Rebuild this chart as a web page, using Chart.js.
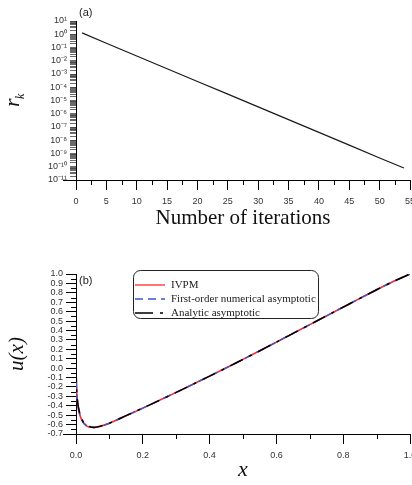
<!DOCTYPE html>
<html>
<head>
<meta charset="utf-8">
<script src="https://cdn.jsdelivr.net/npm/chart.js@4.4.0/dist/chart.umd.min.js"></script>
<style>
  html, body { margin: 0; padding: 0; background: #fff; overflow: hidden; }
  body { width: 412px; height: 485px; position: relative; }
  .panel { position: absolute; left: 0; width: 440px; }
  #panelA { top: 0; height: 235px; }
  #panelB { top: 240px; height: 245px; }
</style>
</head>
<body>
<div class="panel" id="panelA"><canvas id="residualChart"></canvas></div>
<div class="panel" id="panelB"><canvas id="solutionChart"></canvas></div>
<script>
// (a) residual r_k against iteration count
const iterations = [1, 5, 10, 15, 20, 25, 30, 35, 40, 45, 50, 54];
const residuals = [1.26, 0.21, 2.3e-2, 2.5e-3, 2.7e-4, 3.0e-5, 3.3e-6, 3.6e-7, 3.9e-8, 4.3e-9, 4.6e-10, 8e-11];
const residualExponents = [1, 0, -1, -2, -3, -4, -5, -6, -7, -8, -9, -10, -11];

// (b) solution u(x)
const xs = [0, 0.002, 0.005, 0.01, 0.02, 0.03, 0.04, 0.055, 0.07, 0.1, 0.15, 0.2, 0.25, 0.3, 0.35, 0.4,
  0.45, 0.5, 0.55, 0.6, 0.65, 0.7, 0.75, 0.8, 0.85, 0.9, 0.95, 1.0];
const uIVPM = [0, -0.25, -0.38, -0.48, -0.57, -0.61, -0.625, -0.63, -0.62, -0.585, -0.505, -0.425, -0.342, -0.258, -0.172, -0.085,
  0.003, 0.093, 0.184, 0.276, 0.369, 0.462, 0.555, 0.648, 0.741, 0.833, 0.92, 1.0];
const uNumerical = [0, -0.24, -0.37, -0.47, -0.565, -0.605, -0.625, -0.63, -0.62, -0.585, -0.505, -0.425, -0.342, -0.258, -0.172, -0.085,
  0.003, 0.093, 0.184, 0.276, 0.369, 0.462, 0.555, 0.648, 0.741, 0.833, 0.92, 1.0];
const uAnalytic = [0, -0.23, -0.36, -0.46, -0.56, -0.6, -0.62, -0.63, -0.62, -0.585, -0.505, -0.425, -0.342, -0.258, -0.172, -0.085,
  0.003, 0.093, 0.184, 0.276, 0.369, 0.462, 0.555, 0.648, 0.741, 0.833, 0.92, 1.0];

const SANS = "'Liberation Sans', Arial, sans-serif";
const SERIF = "'Liberation Serif', 'Times New Roman', serif";
const SUP = { '0': '⁰', '1': '¹', '2': '²', '3': '³', '4': '⁴', '5': '⁵', '6': '⁶', '7': '⁷', '8': '⁸', '9': '⁹', '-': '⁻' };
const pow10Label = (e) => '10' + String(e).split('').map(c => SUP[c]).join('');

// short unlabelled ticks between the labelled ones
const minorTicks = {
  id: 'minorTicks',
  afterDraw(chart, args, opts) {
    const { ctx, chartArea } = chart;
    ctx.save();
    ctx.strokeStyle = '#000';
    ctx.lineWidth = 1;
    ctx.beginPath();
    (opts.axes || []).forEach(a => {
      const scale = chart.scales[a.id];
      a.values.forEach(v => {
        const p = Math.round(scale.getPixelForValue(v)) + 0.5;
        if (scale.isHorizontal()) {
          ctx.moveTo(p, chartArea.bottom);
          ctx.lineTo(p, chartArea.bottom + a.length);
        } else {
          ctx.moveTo(chartArea.left - a.length, p);
          ctx.lineTo(chartArea.left, p);
        }
      });
    });
    ctx.stroke();
    ctx.restore();
  }
};

// panel letter plus the x-axis stub running left of the y axis
const panelDecor = {
  id: 'panelDecor',
  afterDraw(chart, args, opts) {
    const { ctx, chartArea } = chart;
    ctx.save();
    ctx.strokeStyle = '#000';
    ctx.lineWidth = 1;
    ctx.beginPath();
    const yb = Math.round(chartArea.bottom) + 0.5;
    ctx.moveTo(chartArea.left - 13, yb);
    ctx.lineTo(chartArea.left, yb);
    ctx.stroke();
    ctx.fillStyle = '#222';
    ctx.font = '11px ' + SANS;
    ctx.textBaseline = 'middle';
    ctx.fillText(opts.letter, chartArea.left + 3, chartArea.top - 8 + opts.letterDy);
    ctx.restore();
  }
};

const xMinorA = [];
for (let v = 2.5; v < 55; v += 5) xMinorA.push(v);

new Chart(document.getElementById('residualChart'), {
  type: 'line',
  data: {
    datasets: [{
      data: iterations.map((n, i) => ({ x: n, y: residuals[i] })),
      borderColor: '#1a1a1a',
      borderWidth: 1.2,
      pointRadius: 0,
      tension: 0,
      fill: false
    }]
  },
  options: {
    responsive: true,
    maintainAspectRatio: false,
    animation: false,
    layout: { padding: { top: 21, right: 30, left: 0, bottom: 0 } },
    plugins: {
      legend: { display: false },
      tooltip: { enabled: false },
      minorTicks: { axes: [{ id: 'x', values: xMinorA, length: 5 }] },
      panelDecor: { letter: '(a)', letterDy: 0 }
    },
    scales: {
      x: {
        type: 'linear',
        min: 0,
        max: 55,
        afterFit: s => { s.height = 55; },
        border: { color: '#000', width: 1 },
        grid: { drawOnChartArea: false, tickLength: 10, color: '#000' },
        ticks: { stepSize: 5, padding: 6, maxRotation: 0, autoSkip: false, color: '#333', font: { family: SANS, size: 9 } },
        title: { display: true, text: 'Number of iterations', color: '#111', font: { family: SERIF, size: 21 }, padding: { top: 0, bottom: 4 } }
      },
      y: {
        type: 'logarithmic',
        min: 1e-11,
        max: 10,
        afterFit: s => { s.width = 76; },
        afterBuildTicks: s => {
          const t = [];
          residualExponents.slice().reverse().forEach(e => {
            for (let m = 1; m <= 9; m++) {
              if (e === 1 && m > 1) break;
              t.push({ value: m * Math.pow(10, e) });
            }
          });
          s.ticks = t;
        },
        border: { color: '#000', width: 1 },
        grid: { drawOnChartArea: false, tickLength: 6, color: '#444', lineWidth: 0.8 },
        ticks: {
          autoSkip: false,
          padding: 3,
          color: '#333',
          font: { family: SANS, size: 9 },
          callback: v => {
            const e = Math.round(Math.log10(v));
            return Math.abs(Math.log10(v) - e) < 1e-6 ? pow10Label(e) : '';
          }
        }
      }
    }
  },
  plugins: [minorTicks, panelDecor, {
    id: 'rkTitle',
    afterDraw(chart) {
      const ctx = chart.ctx;
      ctx.save();
      ctx.fillStyle = '#111';
      ctx.translate(19, 100);
      ctx.rotate(-Math.PI / 2);
      ctx.textBaseline = 'alphabetic';
      ctx.font = 'italic 22px ' + SERIF;
      ctx.fillText('r', -7, 0);
      ctx.font = 'italic 12px ' + SERIF;
      ctx.fillText('k', 1, 5);
      ctx.restore();
    }
  }]
});

const xMinorB = [0.1, 0.3, 0.5, 0.7, 0.9];
const yMinorB = [];
for (let v = -0.65; v < 1; v += 0.1) yMinorB.push(v);

// rounded legend box with line samples
const boxLegend = {
  id: 'boxLegend',
  afterDraw(chart, args, opts) {
    const ctx = chart.ctx;
    const { x, y, w, h, r, rowH, sample, gap } = opts;
    ctx.save();
    ctx.strokeStyle = '#222';
    ctx.lineWidth = 1;
    ctx.beginPath();
    ctx.roundRect(x + 0.5, y + 0.5, w, h, r);
    ctx.stroke();
    ctx.font = '11px ' + SERIF;
    ctx.textBaseline = 'middle';
    ['IVPM', 'First-order numerical asymptotic', 'Analytic asymptotic'].forEach((lbl, i) => {
      const ds = chart.data.datasets.find(d => d.label === lbl);
      const yy = y + 15 + i * rowH;
      ctx.strokeStyle = ds.borderColor;
      ctx.lineWidth = 1.3;
      ctx.setLineDash(ds.legendDash || []);
      ctx.beginPath();
      ctx.moveTo(x + 2, yy);
      ctx.lineTo(x + 2 + sample, yy);
      ctx.stroke();
      ctx.setLineDash([]);
      ctx.fillStyle = '#222';
      ctx.fillText(lbl, x + 2 + sample + gap, yy);
    });
    ctx.restore();
  }
};

new Chart(document.getElementById('solutionChart'), {
  type: 'line',
  data: {
    datasets: [
      {
        label: 'IVPM',
        data: xs.map((v, i) => ({ x: v, y: uIVPM[i] })),
        borderColor: '#ff2a2a',
        borderWidth: 1.6,
        order: 3
      },
      {
        label: 'First-order numerical asymptotic',
        data: xs.map((v, i) => ({ x: v, y: uNumerical[i] })),
        borderColor: '#3a56c8',
        borderWidth: 1.5,
        borderDash: [8, 5],
        legendDash: [8, 5],
        order: 2
      },
      {
        label: 'Analytic asymptotic',
        data: xs.map((v, i) => ({ x: v, y: uAnalytic[i] })),
        borderColor: '#000',
        borderWidth: 1.5,
        borderDash: [14, 7, 3, 7],
        legendDash: [18, 7, 3, 7],
        order: 1
      }
    ]
  },
  options: {
    responsive: true,
    maintainAspectRatio: false,
    animation: false,
    datasets: { line: { pointRadius: 0, cubicInterpolationMode: 'monotone', fill: false } },
    layout: { padding: { top: 34, right: 30, left: 0, bottom: 0 } },
    plugins: {
      legend: { display: false },
      tooltip: { enabled: false },
      minorTicks: { axes: [{ id: 'x', values: xMinorB, length: 5 }, { id: 'y', values: yMinorB, length: 5 }] },
      panelDecor: { letter: '(b)', letterDy: 15 },
      boxLegend: { x: 133, y: 30, w: 185, h: 48, r: 7, rowH: 14, sample: 30, gap: 6 }
    },
    scales: {
      x: {
        type: 'linear',
        min: 0,
        max: 1,
        afterFit: s => { s.height = 51; },
        border: { color: '#000', width: 1 },
        grid: { drawOnChartArea: false, tickLength: 10, color: '#000' },
        ticks: { stepSize: 0.2, padding: 6, maxRotation: 0, autoSkip: false, color: '#333', font: { family: SANS, size: 9 },
          callback: v => v.toFixed(1) },
        title: { display: true, text: 'x', color: '#111', font: { family: SERIF, size: 22, style: 'italic' }, padding: { top: 0, bottom: 2 } }
      },
      y: {
        type: 'linear',
        min: -0.7,
        max: 1.0,
        afterFit: s => { s.width = 76; },
        border: { color: '#000', width: 1 },
        grid: { drawOnChartArea: false, tickLength: 10, color: '#000' },
        ticks: { stepSize: 0.1, padding: 3, autoSkip: false, color: '#333', font: { family: SANS, size: 9 },
          callback: v => (Math.abs(v) < 1e-9 ? 0 : v).toFixed(1) },
        title: { display: true, text: 'u(x)', color: '#111', font: { family: SERIF, size: 21, style: 'italic' }, padding: { top: 5, bottom: 0 } }
      }
    }
  },
  plugins: [minorTicks, panelDecor, boxLegend]
});
</script>
</body>
</html>
